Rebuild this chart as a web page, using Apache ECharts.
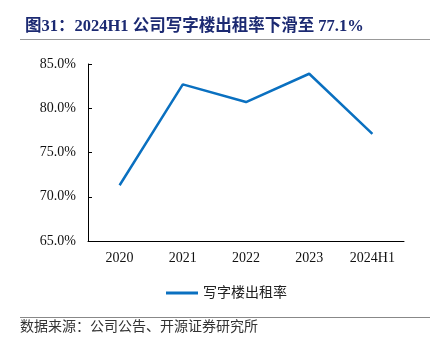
<!DOCTYPE html>
<html>
<head>
<meta charset="utf-8">
<script src="https://cdn.jsdelivr.net/npm/echarts@6/dist/echarts.min.js"></script>
<style>
  html, body { margin: 0; padding: 0; background: #fff; }
  #chart { width: 439px; height: 354px; }
</style>
</head>
<body>
<div id="chart"></div>
<script>
// 数据
const years = ['2020', '2021', '2022', '2023', '2024H1']
const occupancy = [71.3, 82.7, 80.7, 83.9, 77.1]
const yTicks = { min: 65, max: 85, interval: 5 }

const serif = '"Liberation Serif", "Noto Sans CJK SC", serif'
const lineColor = '#0A70C0'

const chart = echarts.init(document.getElementById('chart'))

chart.setOption({
  animation: false,
  backgroundColor: '#fff',
  title: {
    text: '图31：2024H1 公司写字楼出租率下滑至 77.1%',
    left: 20,
    top: 13,
    textStyle: {
      fontFamily: serif,
      fontSize: 16.5,
      fontWeight: 'bold',
      color: '#1C2A72'
    }
  },
  graphic: [
    // 标题下分隔线
    { type: 'line', shape: { x1: 20, y1: 39.5, x2: 430, y2: 39.5 }, style: { stroke: '#999', lineWidth: 1 } },
    // 底部分隔线
    { type: 'line', shape: { x1: 20, y1: 317.5, x2: 430, y2: 317.5 }, style: { stroke: '#888', lineWidth: 1 } },
    {
      type: 'text',
      left: 20,
      top: 320,
      style: {
        text: '数据来源：公司公告、开源证券研究所',
        font: '14px ' + serif,
        fill: '#333'
      }
    }
  ],
  legend: {
    data: ['写字楼出租率'],
    top: 281,
    left: 161,
    itemWidth: 32,
    itemHeight: 3,
    itemGap: 5,
    icon: 'rect',
    textStyle: { fontFamily: serif, fontSize: 14, color: '#222' }
  },
  grid: { left: 88, right: 35, top: 64, bottom: 113 },
  xAxis: {
    type: 'category',
    data: years,
    boundaryGap: true,
    axisLine: { lineStyle: { color: '#000', width: 1 } },
    axisTick: { inside: true, length: 4, lineStyle: { color: '#000' } },
    axisLabel: { fontFamily: serif, fontSize: 14, color: '#111', margin: 10 }
  },
  yAxis: {
    type: 'value',
    min: yTicks.min,
    max: yTicks.max,
    interval: yTicks.interval,
    splitLine: { show: false },
    axisLine: { show: true, lineStyle: { color: '#000', width: 1 } },
    axisTick: { show: true, inside: true, length: 4, lineStyle: { color: '#000' } },
    axisLabel: {
      fontFamily: serif,
      fontSize: 14,
      color: '#111',
      margin: 12,
      formatter: v => v.toFixed(1) + '%'
    }
  },
  series: [
    {
      name: '写字楼出租率',
      type: 'line',
      data: occupancy,
      symbol: 'none',
      lineStyle: { color: lineColor, width: 2.5 },
      itemStyle: { color: lineColor }
    }
  ]
})
</script>
</body>
</html>
